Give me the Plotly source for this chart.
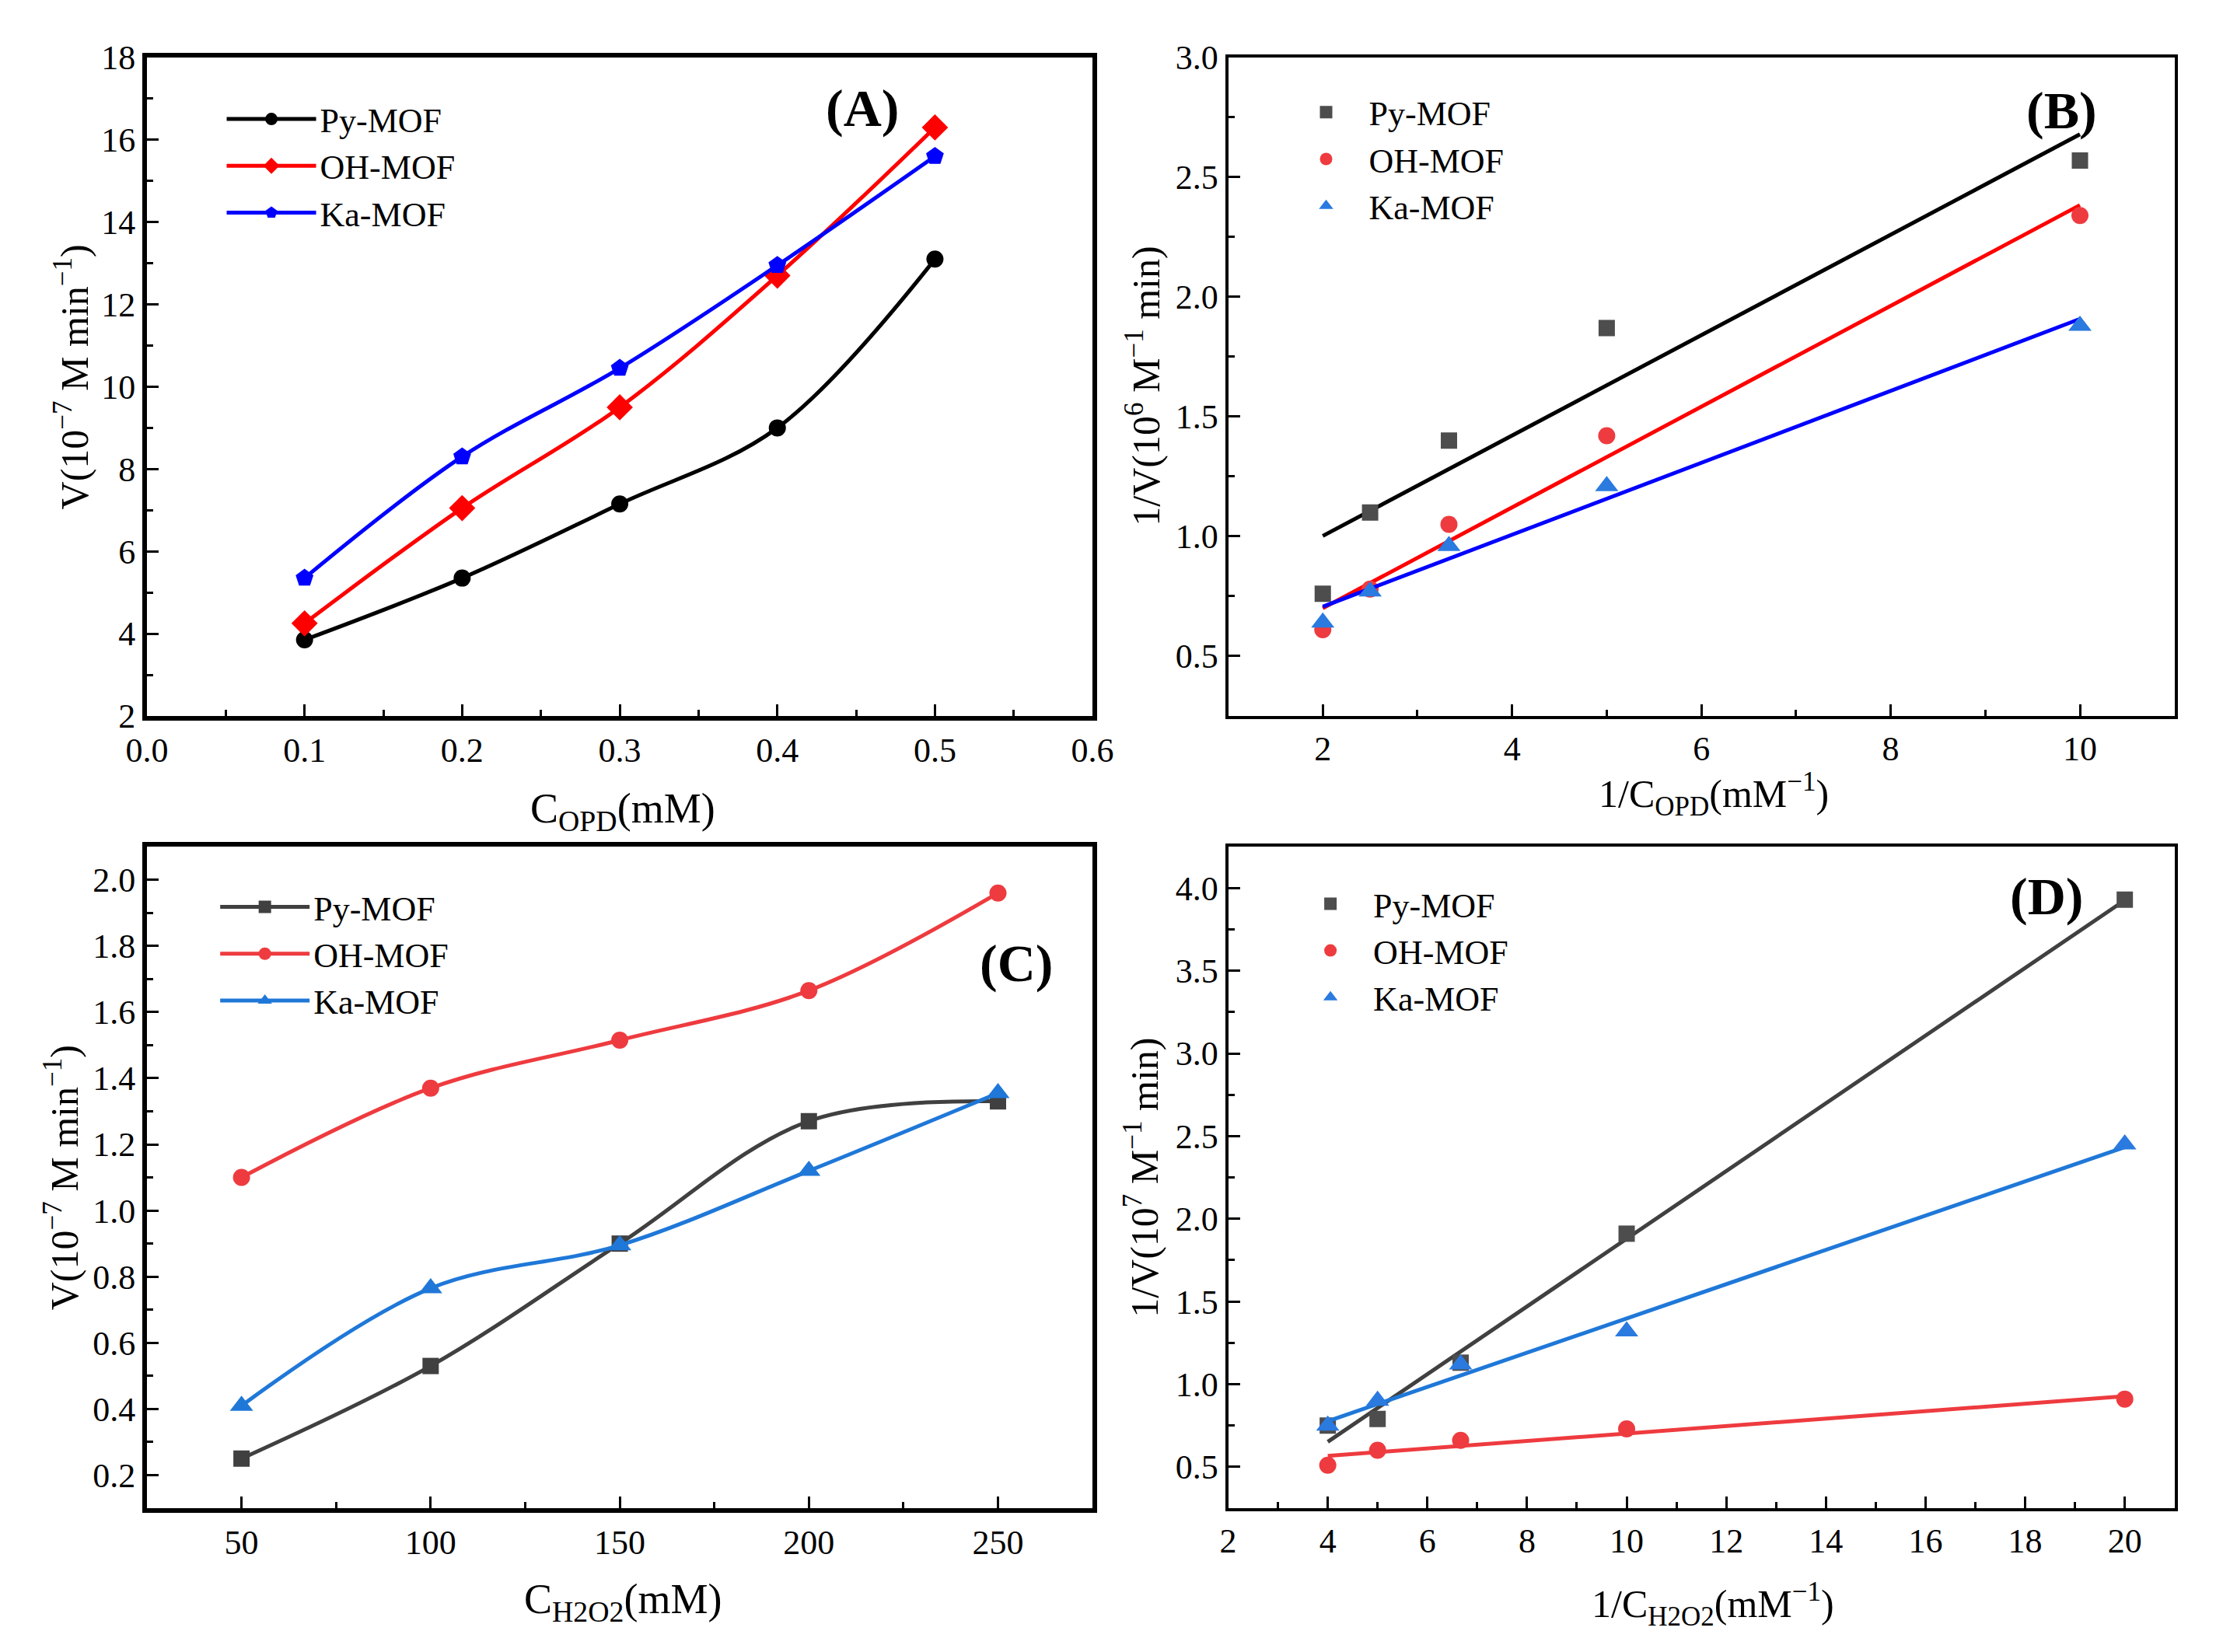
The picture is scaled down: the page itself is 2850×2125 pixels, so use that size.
import numpy as np
import plotly.graph_objects as go

# (A) V vs C_OPD
c_opd = [0.1, 0.2, 0.3, 0.4, 0.5]
a_py = [3.85, 5.35, 7.15, 9.0, 13.1]
a_oh = [4.25, 7.05, 9.5, 12.7, 16.3]
a_ka = [5.35, 8.3, 10.45, 12.95, 15.6]

# (B) 1/V vs 1/C_OPD
inv_opd = [2.0, 2.5, 3.333, 5.0, 10.0]
b_py = [0.76, 1.10, 1.40, 1.87, 2.57]
b_oh = [0.61, 0.78, 1.05, 1.42, 2.34]
b_ka = [0.64, 0.77, 0.96, 1.21, 1.88]

# (C) V vs C_H2O2
c_h2o2 = [50, 100, 150, 200, 250]
c_py = [0.25, 0.53, 0.90, 1.27, 1.33]
c_oh = [1.10, 1.37, 1.515, 1.665, 1.96]
c_ka = [0.41, 0.765, 0.895, 1.12, 1.355]

# (D) 1/V vs 1/C_H2O2
inv_h2o2 = [4.0, 5.0, 6.667, 10.0, 20.0]
d_py = [0.75, 0.79, 1.13, 1.91, 3.93]
d_oh = [0.51, 0.60, 0.66, 0.73, 0.91]
d_ka = [0.75, 0.90, 1.12, 1.32, 2.45]

names = ["Py-MOF", "OH-MOF", "Ka-MOF"]
FONT = "Liberation Serif"

fig = go.Figure()

# --- (A) lignes lissées + marqueurs
for y, nm, col, sym, ms in zip([a_py, a_oh, a_ka], names,
                               ["#000000", "#ff0000", "#0000ff"],
                               ["circle", "diamond", "pentagon"], [22, 26, 24]):
    fig.add_trace(go.Scatter(
        x=c_opd, y=y, name=nm, mode="lines+markers", legend="legend",
        line=dict(color=col, width=5, shape="spline", smoothing=1.0),
        marker=dict(symbol=sym, size=ms, color=col),
        xaxis="x", yaxis="y"))

# --- (B) points + droites ajustées
for y, nm, mcol, lcol, sym, ms in zip([b_py, b_oh, b_ka], names,
                                      ["#4d4d4d", "#ee3b3f", "#2a7ae0"],
                                      ["#000000", "#ff0000", "#0000ff"],
                                      ["square", "circle", "triangle-up"],
                                      [21, 22, 26]):
    k, b = np.polyfit(inv_opd, y, 1)
    xl = np.array([min(inv_opd), max(inv_opd)])
    fig.add_trace(go.Scatter(
        x=xl, y=k * xl + b, mode="lines", showlegend=False,
        line=dict(color=lcol, width=5), xaxis="x2", yaxis="y2"))
    fig.add_trace(go.Scatter(
        x=inv_opd, y=y, name=nm, mode="markers", legend="legend2",
        marker=dict(symbol=sym, size=ms, color=mcol),
        xaxis="x2", yaxis="y2"))

# --- (C) lignes lissées + marqueurs
for y, nm, col, sym, ms in zip([c_py, c_oh, c_ka], names,
                               ["#404040", "#ee3b3f", "#1f78d8"],
                               ["square", "circle", "triangle-up"], [21, 22, 26]):
    fig.add_trace(go.Scatter(
        x=c_h2o2, y=y, name=nm, mode="lines+markers", legend="legend3",
        line=dict(color=col, width=5, shape="spline", smoothing=1.0),
        marker=dict(symbol=sym, size=ms, color=col),
        xaxis="x3", yaxis="y3"))

# --- (D) points + droites ajustées
for y, nm, mcol, lcol, sym, ms in zip([d_py, d_oh, d_ka], names,
                                      ["#4d4d4d", "#ee3b3f", "#2a7ae0"],
                                      ["#404040", "#ee3b3f", "#1f78d8"],
                                      ["square", "circle", "triangle-up"],
                                      [21, 22, 26]):
    k, b = np.polyfit(inv_h2o2, y, 1)
    xl = np.array([min(inv_h2o2), max(inv_h2o2)])
    fig.add_trace(go.Scatter(
        x=xl, y=k * xl + b, mode="lines", showlegend=False,
        line=dict(color=lcol, width=5), xaxis="x4", yaxis="y4"))
    fig.add_trace(go.Scatter(
        x=inv_h2o2, y=y, name=nm, mode="markers", legend="legend4",
        marker=dict(symbol=sym, size=ms, color=mcol),
        xaxis="x4", yaxis="y4"))


def ax(dom, anchor, rng, dtick, tick0, minor, fmt, lw):
    return dict(domain=dom, anchor=anchor, range=rng, dtick=dtick, tick0=tick0,
                tickformat=fmt, showgrid=False, zeroline=False,
                showline=True, linecolor="black", linewidth=lw, mirror=True,
                ticks="inside", ticklen=15, tickwidth=3, tickcolor="black",
                minor=dict(dtick=minor, ticks="inside", ticklen=8, tickwidth=3,
                           tickcolor="black", showgrid=False),
                tickfont=dict(family=FONT, size=44, color="black"))


XL, XR = [0.0551, 0.4902], [0.5526, 0.9881]
YT, YB = [0.5718, 0.9798], [0.0809, 0.4908]


def leg(x, y, iw):
    return dict(x=x, y=y, xanchor="left", yanchor="top", bgcolor="rgba(0,0,0,0)",
                font=dict(family=FONT, size=44, color="black"), itemwidth=iw,
                tracegroupgap=0)


def note(x, y, text, size=50, angle=0, bold=False):
    if bold:
        text = "<b>" + text + "</b>"
    return dict(x=x, y=y, xref="paper", yref="paper", text=text, showarrow=False,
                textangle=angle, xanchor="center", yanchor="middle",
                font=dict(family=FONT, size=size, color="black"))


fig.update_layout(
    width=2850, height=2125, paper_bgcolor="white", plot_bgcolor="white",
    margin=dict(l=0, r=0, t=0, b=0),
    font=dict(family=FONT, size=44, color="black"),
    xaxis=ax(XL, "y", [0, 0.6], 0.1, 0, 0.05, ".1f", 6),
    yaxis=ax(YT, "x", [2, 18], 2, 2, 1, "d", 6),
    xaxis2=ax(XR, "y2", [1, 11], 2, 2, 1, "d", 4),
    yaxis2=ax(YT, "x2", [0.25, 3.0], 0.5, 0.5, 0.25, ".1f", 4),
    xaxis3=ax(XL, "y3", [25, 275], 50, 50, 25, "d", 6),
    yaxis3=ax(YB, "x3", [0.1, 2.1], 0.2, 0.2, 0.1, ".1f", 6),
    xaxis4=ax(XR, "y4", [2, 21], 2, 2, 1, "d", 4),
    yaxis4=ax(YB, "x4", [0.25, 4.25], 0.5, 0.5, 0.25, ".1f", 4),
    legend=leg(0.090, 0.9586, 115),
    legend2=leg(0.578, 0.9628, 100),
    legend3=leg(0.087, 0.4704, 115),
    legend4=leg(0.580, 0.4724, 100),
    annotations=[
        note(0.3844, 0.9485, "(A)", 68, bold=True),
        note(0.936, 0.947, "(B)", 68, bold=True),
        note(0.455, 0.4188, "(C)", 68, bold=True),
        note(0.9291, 0.4602, "(D)", 68, bold=True),
        note(0.2742, 0.5128, "C<sub>OPD</sub>(mM)", 54),
        note(0.0207, 0.782, "V(10<sup>−7</sup> M min<sup>−1</sup>)", angle=-90),
        note(0.7762, 0.5234, "1/C<sub>OPD</sub>(mM<sup>−1</sup>)"),
        note(0.5133, 0.776, "1/V(10<sup>6</sup> M<sup>−1</sup> min)", angle=-90),
        note(0.2742, 0.0231, "C<sub>H2O2</sub>(mM)", 54),
        note(0.0158, 0.2856, "V(10<sup>−7</sup> M min<sup>−1</sup>)", angle=-90),
        note(0.7756, 0.0216, "1/C<sub>H2O2</sub>(mM<sup>−1</sup>)"),
        note(0.5126, 0.2856, "1/V(10<sup>7</sup> M<sup>−1</sup> min)", angle=-90),
    ],
)

fig.write_html("out.html")
